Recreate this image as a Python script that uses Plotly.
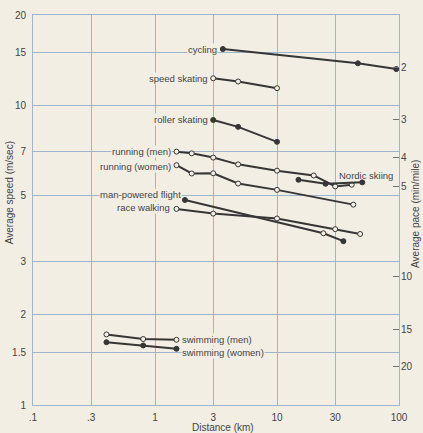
import math
import plotly.graph_objects as go

# ---- data: distance (km) and average speed (m/s) ----
cycling_km = [3.6, 46, 95]
cycling_speed = [15.4, 13.8, 13.2]

speed_skating_km = [3, 4.8, 10]
speed_skating_speed = [12.3, 12.0, 11.4]

roller_skating_km = [3, 4.8, 10]
roller_skating_speed = [8.93, 8.47, 7.55]

running_men_km = [1.5, 2, 3, 4.8, 10, 20, 30, 41]
running_men_speed = [7.0, 6.91, 6.69, 6.35, 6.05, 5.83, 5.36, 5.43]

running_women_km = [1.5, 2, 3, 4.8, 10, 42.2]
running_women_speed = [6.31, 5.92, 5.93, 5.48, 5.22, 4.66]

nordic_km = [15, 25, 50]
nordic_speed = [5.64, 5.47, 5.53]

flight_km = [1.76, 24, 35]
flight_speed = [4.83, 3.74, 3.52]
flight_filled = [True, False, True]

walking_km = [1.5, 3, 10, 30, 48]
walking_speed = [4.51, 4.35, 4.19, 3.86, 3.72]

swim_men_km = [0.4, 0.8, 1.5]
swim_men_speed = [1.72, 1.66, 1.65]

swim_women_km = [0.4, 0.8, 1.5]
swim_women_speed = [1.62, 1.58, 1.54]

x_ticks = [0.1, 0.3, 1, 3, 10, 30, 100]
x_tick_labels = [".1", ".3", "1", "3", "10", "30", "100"]
y_ticks = [1, 1.5, 2, 3, 5, 7, 10, 15, 20]
y_tick_labels = ["1", "1.5", "2", "3", "5", "7", "10", "15", "20"]
pace_ticks = [2, 3, 4, 5, 10, 15, 20]          # min/mile
METERS_PER_MILE = 1609.344

# ---- styling ----
BG = "#f2eee4"
GRID = "#9db6d0"
INK = "#363636"
TEXT = "#444444"
FONT = "Liberation Sans, Arial, sans-serif"

# name, km, speed, filled, label text, label side, (xshift, yshift)
series = [
    ("cycling", cycling_km, cycling_speed, True, "cycling", "left", (-5, 0)),
    ("speed skating", speed_skating_km, speed_skating_speed, False, "speed skating", "left", (-4, 0)),
    ("roller skating", roller_skating_km, roller_skating_speed, True, "roller skating", "left", (-4, 0)),
    ("running (men)", running_men_km, running_men_speed, False, "running (men)", "left", (-4, 0)),
    ("running (women)", running_women_km, running_women_speed, False, "running (women)", "left", (-4, -1)),
    ("Nordic skiing", nordic_km, nordic_speed, True, "Nordic skiing", "nordic", (32, 7)),
    ("man-powered flight", flight_km, flight_speed, flight_filled, "man-powered flight", "left", (-3, 5)),
    ("race walking", walking_km, walking_speed, False, "race walking", "left", (-5, 1)),
    ("swimming (men)", swim_men_km, swim_men_speed, False, "swimming (men)", "right", (5, 0)),
    ("swimming (women)", swim_women_km, swim_women_speed, True, "swimming (women)", "right", (5, -4)),
]

fig = go.Figure()
annotations = []

for name, km, spd, filled, label, side, (dx, dy) in series:
    if isinstance(filled, list):
        fills = filled
    else:
        fills = [filled] * len(km)
    colors = [INK if f else BG for f in fills]
    fig.add_trace(go.Scatter(
        x=km, y=spd, mode="lines+markers", name=name,
        line=dict(color=INK, width=2),
        marker=dict(symbol="circle", size=5, color=colors,
                    line=dict(color=INK, width=1)),
        showlegend=False, hoverinfo="x+y+name",
    ))
    if side == "left":
        ax, ay, anchor = km[0], spd[0], "right"
    elif side == "right":
        ax, ay, anchor = km[-1], spd[-1], "left"
    else:
        ax, ay, anchor = km[-1], spd[-1], "right"
    annotations.append(dict(
        x=math.log10(ax), y=math.log10(ay), xref="x", yref="y",
        text=label, showarrow=False, xanchor=anchor, yanchor="middle",
        xshift=dx, yshift=dy,
        font=dict(family=FONT, size=9.5, color=TEXT),
        bgcolor=BG if side != "nordic" else None, borderpad=0,
    ))

# keeps the pace axis attached to the plot
fig.add_trace(go.Scatter(x=[None], y=[None], yaxis="y2",
                         showlegend=False, hoverinfo="skip"))

y_range = [0, math.log10(20)]

annotations += [
    dict(text="Average speed (m/sec)", xref="paper", yref="paper",
         x=0, y=0.543, xshift=-24, textangle=-90, showarrow=False,
         xanchor="center", yanchor="middle",
         font=dict(family=FONT, size=10, color=TEXT)),
    dict(text="Distance (km)", xref="paper", yref="paper",
         x=0.519, y=0, yshift=-22, showarrow=False,
         xanchor="center", yanchor="middle",
         font=dict(family=FONT, size=10, color=TEXT)),
    dict(text="Average pace (min/mile)", xref="paper", yref="paper",
         x=1, y=0.49, xshift=17, textangle=-90, showarrow=False,
         xanchor="center", yanchor="middle",
         font=dict(family=FONT, size=10, color=TEXT)),
]

fig.update_layout(
    width=423, height=433,
    margin=dict(l=33, r=24, t=9, b=28),
    paper_bgcolor=BG, plot_bgcolor=BG,
    font=dict(family=FONT, size=10, color=TEXT),
    xaxis=dict(type="log", range=[-1, 2], tickvals=x_ticks, ticktext=x_tick_labels,
               showgrid=True, gridcolor=GRID, gridwidth=1,
               showline=True, linecolor=GRID, linewidth=1, mirror=True,
               ticks="", ticklabelstandoff=3, zeroline=False,
               tickfont=dict(family=FONT, size=10, color=TEXT)),
    yaxis=dict(type="log", range=y_range, tickvals=y_ticks, ticktext=y_tick_labels,
               showgrid=True, gridcolor=GRID, gridwidth=1,
               showline=True, linecolor=GRID, linewidth=1, mirror=True,
               ticks="", ticklabelstandoff=4, zeroline=False,
               tickfont=dict(family=FONT, size=10, color=TEXT)),
    yaxis2=dict(type="log", range=y_range, overlaying="y", side="right", anchor="x",
                tickvals=[METERS_PER_MILE / (60 * p) for p in pace_ticks],
                ticktext=[str(p) for p in pace_ticks],
                showgrid=False, showline=False, zeroline=False,
                ticks="inside", ticklen=6, tickcolor="#6f6f6f", tickwidth=1,
                ticklabelstandoff=1,
                tickfont=dict(family=FONT, size=10, color=TEXT)),
    annotations=annotations,
)

fig.write_html("out.html")
